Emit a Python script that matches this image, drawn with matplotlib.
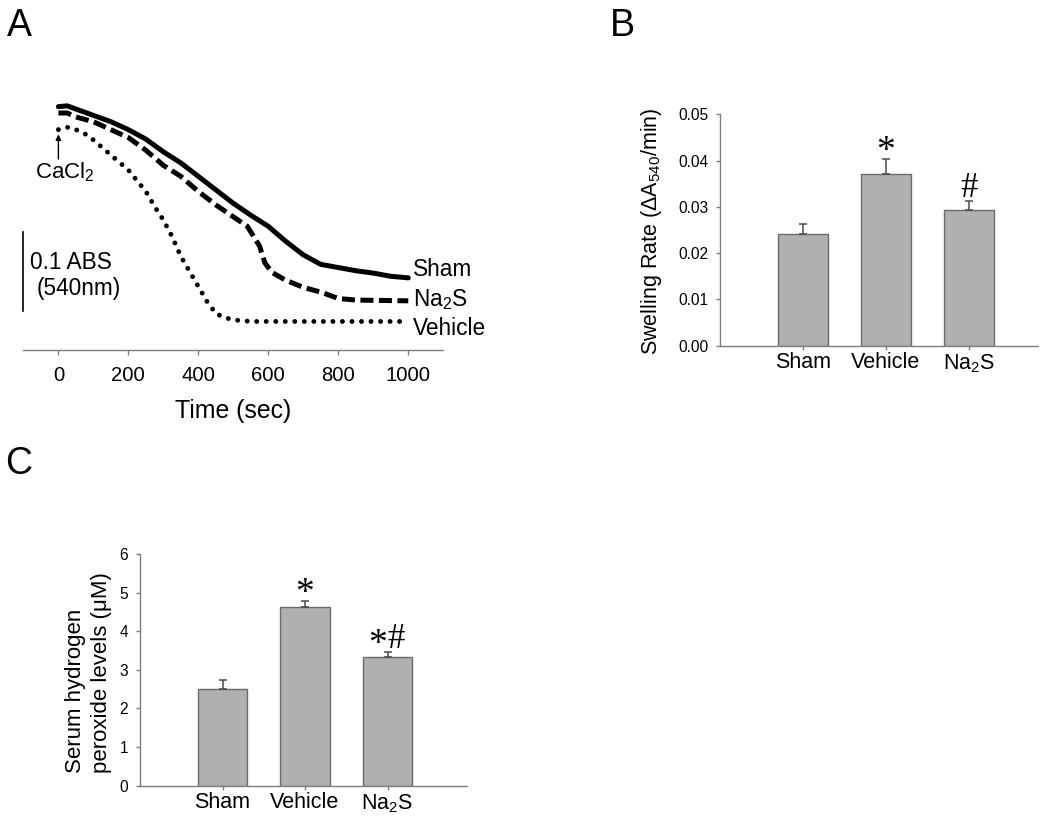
import matplotlib
matplotlib.use("Agg")
import matplotlib.pyplot as plt

plt.rcParams['font.family'] = ['Liberation Sans', 'DejaVu Sans']
plt.rcParams['mathtext.fontset'] = 'custom'
plt.rcParams['mathtext.rm'] = 'Liberation Sans'
plt.rcParams['mathtext.it'] = 'Liberation Sans:italic'

# ---------------- data ----------------
# Panel A: mitochondrial swelling traces (absorbance at 540 nm)
sham_t = [0, 25, 50, 100, 150, 200, 250, 300, 350, 400, 450, 500, 550, 600, 650, 700,
          725, 750, 800, 850, 900, 950, 1000]
sham_abs = [0.966, 0.967, 0.963, 0.955, 0.947, 0.937, 0.925, 0.909, 0.895, 0.878, 0.861,
            0.844, 0.829, 0.815, 0.796, 0.779, 0.773, 0.767, 0.763, 0.759, 0.756, 0.752, 0.750]
na2s_t = [0, 25, 50, 100, 150, 200, 250, 300, 350, 400, 450, 500, 540, 575, 590, 610,
          650, 700, 750, 800, 850, 1000]
na2s_abs = [0.958, 0.958, 0.953, 0.947, 0.937, 0.927, 0.911, 0.892, 0.878, 0.859, 0.842,
            0.827, 0.815, 0.790, 0.769, 0.757, 0.747, 0.738, 0.732, 0.724, 0.722, 0.721]
veh_t = [0, 25, 50, 75, 100, 150, 200, 250, 275, 300, 325, 350, 375, 400, 425, 450, 475,
         500, 550, 600, 1000]
veh_abs = [0.937, 0.940, 0.937, 0.932, 0.924, 0.905, 0.886, 0.859, 0.840, 0.823, 0.802,
           0.777, 0.758, 0.739, 0.720, 0.705, 0.700, 0.697, 0.695, 0.695, 0.695]
time_ticks = [0, 200, 400, 600, 800, 1000]

# Panels B and C
groups = ['Sham', 'Vehicle', 'Na$_2$S']
swelling_rate = [0.0241, 0.0370, 0.0294]
swelling_err = [0.0023, 0.0034, 0.0019]
swelling_ticks = [0.00, 0.01, 0.02, 0.03, 0.04, 0.05]
swelling_star = [False, True, False]
swelling_hash = [False, False, True]

h2o2 = [2.50, 4.64, 3.33]
h2o2_err = [0.24, 0.14, 0.14]
h2o2_ticks = [0, 1, 2, 3, 4, 5, 6]
h2o2_star = [False, True, True]
h2o2_hash = [False, False, True]

# ---------------- figure ----------------
W, H = 1050, 822
fig = plt.figure(figsize=(W / 100, H / 100), dpi=100)


def fx(px):
    return px / W


def fy(py):
    return 1 - py / H


def axes_px(left, top, right, bottom):
    return fig.add_axes([fx(left), fy(bottom), (right - left) / W, (bottom - top) / H])


SPINE = '#7f7f7f'
BAR_FACE = '#b0b0b0'
BAR_EDGE = '#6a6a6a'
SERIF = ['Liberation Serif', 'DejaVu Serif']

# ---------------- Panel A ----------------
axA = axes_px(22.7, 90, 443.3, 350)
axA.plot(sham_t, sham_abs, color='black', lw=3.6, solid_capstyle='round', solid_joinstyle='round')
axA.plot(na2s_t, na2s_abs, color='black', lw=3.6, linestyle=(0, (2.6, 1.1)), dash_capstyle='butt')
axA.plot(veh_t, veh_abs, color='black', lw=3.5, linestyle=(0, (0.01, 1.95)), dash_capstyle='round')
axA.set_xlim(-102, 1100)
axA.set_ylim(0.659, 0.987)
for s in ['left', 'right', 'top']:
    axA.spines[s].set_visible(False)
axA.spines['bottom'].set_color(SPINE)
axA.spines['bottom'].set_linewidth(1.0)
axA.set_yticks([])
axA.set_xticks(time_ticks)
axA.set_xticklabels([str(t) for t in time_ticks])
axA.tick_params(axis='x', direction='out', length=3.6, width=1.0, color=SPINE,
                labelsize=14.6, pad=8)

# scale bar
axA.plot([-100, -100], [0.708, 0.808], color='black', lw=1.2, clip_on=False)
axA.text(-81, 0.770, '0.1 ABS', fontsize=16.3, ha='left', va='center')
axA.text(-61, 0.737, '(540nm)', fontsize=16.3, ha='left', va='center')

# CaCl2 arrow
axA.annotate('', xy=(0, 0.931), xytext=(0, 0.900),
             arrowprops=dict(arrowstyle='-|>', color='black', lw=1.0,
                             mutation_scale=8, shrinkA=0, shrinkB=0))
axA.text(-67, 0.8755, 'CaCl$_2$', fontsize=16, ha='left', va='baseline')

# curve labels
axA.text(1014, 0.752, 'Sham', fontsize=16.3, ha='left', va='baseline', clip_on=False)
axA.text(1014, 0.7145, 'Na$_2$S', fontsize=16.3, ha='left', va='baseline', clip_on=False)
axA.text(1014, 0.678, 'Vehicle', fontsize=16.3, ha='left', va='baseline', clip_on=False)

fig.text(fx(233), fy(411), 'Time (sec)', fontsize=17.9, ha='center', va='center')


def bar_panel(ax, values, errs, yticks, ylabels, stars, hashes, xmax):
    pos = [1, 2, 3]
    ax.bar(pos, values, width=0.6, color=BAR_FACE, edgecolor=BAR_EDGE, linewidth=1.0, zorder=2)
    ax.errorbar(pos, values, yerr=[[0, 0, 0], errs], fmt='none', ecolor='#4a4a4a',
                elinewidth=1.1, capsize=2.6, capthick=1.1, zorder=3)
    ax.set_xlim(0, xmax)
    ax.set_ylim(yticks[0], yticks[-1])
    for s in ['right', 'top']:
        ax.spines[s].set_visible(False)
    for s in ['left', 'bottom']:
        ax.spines[s].set_color(SPINE)
        ax.spines[s].set_linewidth(1.0)
    ax.set_xticks(pos)
    ax.set_xticklabels(groups)
    ax.set_yticks(yticks)
    ax.set_yticklabels(ylabels)
    ax.tick_params(axis='x', direction='out', length=2.6, width=1.0, color=SPINE,
                   labelsize=15.5, pad=2.0)
    ax.tick_params(axis='y', direction='out', length=2.6, width=1.0, color=SPINE,
                   labelsize=11.2, pad=6.0)
    for p, v, e, st, hs in zip(pos, values, errs, stars, hashes):
        both = st and hs
        if st:
            ax.annotate('*', xy=(p, v + e), xytext=(-7.5 if both else 0, -1.5),
                        textcoords='offset points', ha='center', va='baseline',
                        fontsize=27, family=SERIF)
        if hs:
            ax.annotate('#', xy=(p, v + e), xytext=(6.5 if both else 0, 2.5),
                        textcoords='offset points', ha='center', va='baseline',
                        fontsize=25, family=SERIF)


# ---------------- Panel B ----------------
axB = axes_px(720, 114.3, 1038.3, 345.7)
bar_panel(axB, swelling_rate, swelling_err, swelling_ticks,
          ['%.2f' % v for v in swelling_ticks], swelling_star, swelling_hash, 3.84)
fig.text(fx(651), fy(231), 'Swelling Rate ($\\Delta$A$_{540}$/min)', rotation=90,
         fontsize=15.5, ha='center', va='center')

# ---------------- Panel C ----------------
axC = axes_px(140, 554, 466.7, 785.7)
bar_panel(axC, h2o2, h2o2_err, h2o2_ticks, [str(v) for v in h2o2_ticks],
          h2o2_star, h2o2_hash, 3.96)
fig.text(fx(76), fy(773), 'Serum hydrogen', rotation=90, fontsize=16,
         ha='center', va='bottom')
fig.text(fx(101), fy(773), 'peroxide levels (\u03bcM)', rotation=90, fontsize=16,
         ha='center', va='bottom')

# panel letters
fig.text(fx(19), fy(26), 'A', fontsize=27, ha='center', va='center')
fig.text(fx(622), fy(26), 'B', fontsize=27, ha='center', va='center')
fig.text(fx(19), fy(464), 'C', fontsize=27, ha='center', va='center')

fig.savefig('out.png', dpi=100, facecolor='white')
